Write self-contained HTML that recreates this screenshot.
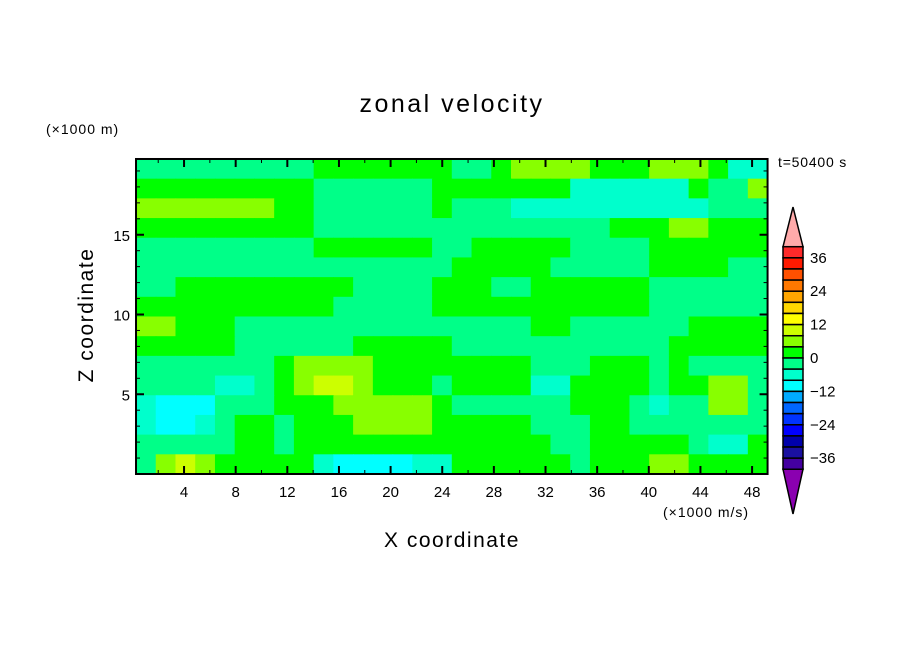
<!DOCTYPE html>
<html><head><meta charset="utf-8"><style>
html,body{margin:0;padding:0;background:#fff;}
svg text{font-family:"Liberation Sans","DejaVu Sans",sans-serif;fill:#000;}
</style></head><body>
<svg id="chart" width="904" height="654" viewBox="0 0 904 654" xmlns="http://www.w3.org/2000/svg">
<rect width="904" height="654" fill="#fff"/>
<text x="452" y="112" font-size="25" letter-spacing="2.5" text-anchor="middle">zonal velocity</text>
<text x="46" y="134" font-size="14" letter-spacing="1">(×1000 m)</text>
<text x="778" y="167" font-size="14" letter-spacing="0.8">t=50400 s</text>
<text x="663" y="517" font-size="14" letter-spacing="1">(×1000 m/s)</text>
<text x="452" y="547" font-size="21" letter-spacing="1.5" text-anchor="middle">X coordinate</text>
<text x="0" y="0" font-size="21" letter-spacing="1.5" text-anchor="middle" transform="translate(93,315) rotate(-90)">Z coordinate</text>
<g id="field"></g>
<g id="axes"></g>
<g id="cbar"></g>
</svg>
<script>
// ---- data ----
const xTicks = [4,8,12,16,20,24,28,32,36,40,44,48];
const yTicks = [5,10,15];
const cbLabels = [36,24,12,0,-12,-24,-36];
const levelEdges = [40,36,32,28,24,20,16,12,8,4,0,-4,-8,-12,-16,-20,-24,-28,-32,-36,-40];
const levelColors = ["#ff2a2a","#ff1a00","#ff5000","#ff7800","#ffa500","#ffd700","#ffff00","#ccff00","#88ff00","#00ff00","#00ff88","#00ffcc","#00ffff","#00aaff","#0066ff","#0033ff","#0000ff","#0000aa","#1a10a0","#4400a0"];
const xDomain = [0.28, 49.2];
const zDomain = [0, 19.75];
// field values (rows from top, 32 columns), in m/s
const row0  = [-2,-2,-2,-2,-2,-2,-2,-2,-2,2,2,2,2,2,2,2, -2,-2,2,6,6,6,6,2,2,2,6,6,6,2,-6,-6];
const row1  = [2,2,2,2,2,2,2,2,2,-2,-2,-2,-2,-2,-2,2, 2,2,2,2,2,2,-6,-6,-6,-6,-6,-6,2,-2,-2,6];
const row2  = [6,6,6,6,6,6,6,2,2,-2,-2,-2,-2,-2,-2,2, -2,-2,-2,-6,-6,-6,-6,-6,-6,-6,-6,-6,-6,-2,-2,-2];
const row3  = [2,2,2,2,2,2,2,2,2,-2,-2,-2,-2,-2,-2,-2, -2,-2,-2,-2,-2,-2,-2,-2,2,2,2,6,6,2,2,2];
const row4  = [-2,-2,-2,-2,-2,-2,-2,-2,-2,2,2,2,2,2,2,-2, -2,2,2,2,2,2,-2,-2,-2,-2,2,2,2,2,2,2];
const row5  = [-2,-2,-2,-2,-2,-2,-2,-2,-2,-2,-2,-2,-2,-2,-2,-2, 2,2,2,2,2,-2,-2,-2,-2,-2,2,2,2,2,-2,-2];
const row6  = [-2,-2,2,2,2,2,2,2,2,2,2,-2,-2,-2,-2,2, 2,2,-2,-2,2,2,2,2,2,2,-2,-2,-2,-2,-2,-2];
const row7  = [2,2,2,2,2,2,2,2,2,2,-2,-2,-2,-2,-2,2, 2,2,2,2,2,2,2,2,2,2,-2,-2,-2,-2,-2,-2];
const row8  = [6,6,2,2,2,-2,-2,-2,-2,-2,-2,-2,-2,-2,-2,-2, -2,-2,-2,-2,2,2,-2,-2,-2,-2,-2,-2,2,2,2,2];
const row9  = [2,2,2,2,2,-2,-2,-2,-2,-2,-2,2,2,2,2,2, -2,-2,-2,-2,-2,-2,-2,-2,-2,-2,-2,2,2,2,2,2];
const row10 = [-2,-2,-2,-2,-2,-2,-2,2,6,6,6,6,2,2,2,2, 2,2,2,2,-2,-2,-2,2,2,2,-2,2,-2,-2,-2,-2];
const row11 = [-2,-2,-2,-2,-6,-6,-2,2,6,10,10,6,2,2,2,-2, 2,2,2,2,-6,-6,2,2,2,2,-2,2,2,6,6,-2];
const row12 = [-6,-10,-10,-10,-2,-2,-2,2,2,2,6,6,6,6,6,2, -2,-2,-2,-2,-2,-2,2,2,2,-2,-6,-2,-2,6,6,-2];
const row13 = [-6,-10,-10,-6,-2,2,2,-2,2,2,2,6,6,6,6,2, 2,2,2,2,-2,-2,-2,2,2,-2,-2,-2,-2,-2,-2,-2];
const row14 = [-2,-2,-2,-2,-2,2,2,-2,2,2,2,2,2,2,2,2, 2,2,2,2,2,-2,-2,2,2,2,2,2,-2,-6,-6,2];
const row15 = [-2,6,10,6,2,2,2,2,2,-6,-10,-10,-10,-10,-6,-6, 2,2,2,2,2,2,-2,2,2,2,6,6,2,2,2,2];
const field = [row0,row1,row2,row3,row4,row5,row6,row7,row8,row9,row10,row11,row12,row13,row14,row15];

// ---- scales ----
const X0 = 132.4, XS = 12.91;
function xs(v){ return X0 + XS*v; }
const Y0 = 474, YS = 15.95;
function ys(v){ return Y0 - YS*v; }
const CB_TOP = 246.7, CB_STEP = 11.13;
function cbY(v){ return CB_TOP + (40 - v)/4*CB_STEP; }
function colorFor(v){
  for (let i=0;i<levelColors.length;i++){
    if (v < levelEdges[i] && v >= levelEdges[i+1]) return levelColors[i];
  }
  return v >= 40 ? "#ffaaaa" : "#8a00b0";
}
const SVGNS = "http://www.w3.org/2000/svg";
function mk(tag, attrs, parent){
  const e = document.createElementNS(SVGNS, tag);
  for (const k in attrs) e.setAttribute(k, attrs[k]);
  parent.appendChild(e);
  return e;
}

// ---- field cells ----
const fieldGroup = document.getElementById("field");
const nRows = field.length, nCols = field[0].length;
const cdx = (xDomain[1]-xDomain[0])/nCols, cdz = (zDomain[1]-zDomain[0])/nRows;
for (let r=0;r<nRows;r++){
  for (let c=0;c<nCols;c++){
    const x1 = xs(xDomain[0]+c*cdx), x2 = xs(xDomain[0]+(c+1)*cdx);
    const y1 = ys(zDomain[1]-r*cdz), y2 = ys(zDomain[1]-(r+1)*cdz);
    const el = mk("rect", {x:x1, y:y1, width:x2-x1+0.6, height:y2-y1+0.6, fill:colorFor(field[r][c])}, fieldGroup);
    
    
  }
}

// ---- axes ----
const axesGroup = document.getElementById("axes");
const pL = xs(xDomain[0]), pR = xs(xDomain[1]), pT = ys(zDomain[1]), pB = ys(zDomain[0]);
const frameEl = mk("rect", {x:pL, y:pT, width:pR-pL, height:pB-pT, fill:"none", stroke:"#000", "stroke-width":2}, axesGroup);


for (let v=2; v<50; v+=2){
  const major = v%4===0, len = major?8:4, w = major?2:1;
  const t1 = mk("line", {x1:xs(v), x2:xs(v), y1:pB, y2:pB-len, stroke:"#000","stroke-width":w}, axesGroup);
  
  
  const t2 = mk("line", {x1:xs(v), x2:xs(v), y1:pT, y2:pT+len, stroke:"#000","stroke-width":w}, axesGroup);
  
  
}
for (let v=1; v<20; v++){
  const major = v%5===0, len = major?8:4, w = major?2:1;
  const t1 = mk("line", {x1:pL, x2:pL+len, y1:ys(v), y2:ys(v), stroke:"#000","stroke-width":w}, axesGroup);
  
  
  const t2 = mk("line", {x1:pR, x2:pR-len, y1:ys(v), y2:ys(v), stroke:"#000","stroke-width":w}, axesGroup);
  
  
}
xTicks.forEach(v=>{
  const t = mk("text", {x:xs(v), y:497, "font-size":15, "text-anchor":"middle"}, axesGroup);
  t.textContent = v;
  
  
});
yTicks.forEach(v=>{
  const t = mk("text", {x:pL-6, y:ys(v)+6, "font-size":15, "text-anchor":"end"}, axesGroup);
  t.textContent = v;
  
  
});

// ---- colorbar ----
const cbGroup = document.getElementById("cbar");
const CL = 783, CR = 803, CM = 793;
const maxArrow = mk("polygon", {points:`${CL},${CB_TOP} ${CR},${CB_TOP} ${CM},207`, fill:"#ffaaaa", stroke:"#000","stroke-width":1.5}, cbGroup);


for (let i=0;i<levelColors.length;i++){
  const y1 = cbY(levelEdges[i]), y2 = cbY(levelEdges[i+1]);
  const b = mk("rect", {x:CL, y:y1, width:CR-CL, height:y2-y1, fill:levelColors[i], stroke:"#000","stroke-width":1.5}, cbGroup);
  
  
}
const cbBottom = cbY(-40);
const minArrow = mk("polygon", {points:`${CL},${cbBottom} ${CR},${cbBottom} ${CM},514`, fill:"#8a00b0", stroke:"#000","stroke-width":1.5}, cbGroup);


cbLabels.forEach(v=>{
  const t = mk("text", {x:810, y:cbY(v)+5, "font-size":15}, cbGroup);
  t.textContent = v<0 ? "\u2212"+(-v) : v;
  
  
});
</script>
</body></html>
